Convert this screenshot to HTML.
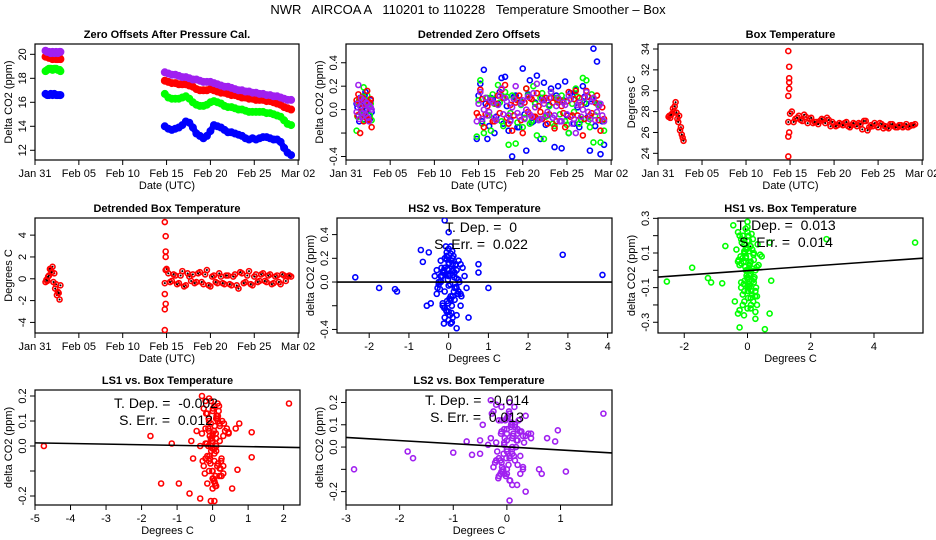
<!DOCTYPE html>
<html><head><meta charset="utf-8"><style>
html,body{margin:0;padding:0;background:#fff;}
svg{display:block;font-family:"Liberation Sans",sans-serif;}
</style></head><body>
<svg id="c" width="936" height="540" viewBox="0 0 936 540">
<text x="468" y="14" text-anchor="middle" font-size="13" style="white-space:pre">NWR   AIRCOA A   110201 to 110228   Temperature Smoother – Box</text>
</svg>
<script>
const times=[1.2,1.4,1.6,1.8,2.0,2.2,2.4,2.6,2.8,2.9,14.8,15.2,15.6,16.0,16.4,16.8,17.2,17.6,18.0,18.4,18.8,19.2,19.6,20.0,20.4,20.8,21.2,21.6,22.0,22.4,22.8,23.2,23.6,24.0,24.4,24.8,25.2,25.6,26.0,26.4,26.8,27.2,27.6,28.0,28.4,28.8,29.2];
const times2=[1.3,1.5,1.7,1.9,2.1,2.3,2.5,2.7,15.0,15.4,15.8,16.2,16.6,17.0,17.4,17.8,18.2,18.6,19.0,19.4,19.8,20.2,20.6,21.0,21.4,21.8,22.2,22.6,23.0,23.4,23.8,24.2,24.6,25.0,25.4,25.8,26.2,26.6,27.0,27.4,27.8,28.2,28.6,29.0];
const zBlue=[16.7,16.6,16.6,16.7,16.6,16.7,16.6,16.6,16.6,16.6,14.0,13.8,13.7,13.8,13.9,14.1,14.4,14.3,13.9,13.4,13.2,13.0,13.2,13.6,14.1,14.0,13.9,13.7,13.5,13.5,13.4,13.3,13.2,13.0,12.9,13.0,12.9,13.0,13.1,13.1,13.0,12.9,12.9,12.7,12.2,11.8,11.6];
const zGreen=[18.6,18.7,18.8,18.8,18.7,18.8,18.8,18.7,18.7,18.6,16.7,16.4,16.3,16.3,16.3,16.4,16.5,16.3,16.0,15.8,15.7,15.7,15.8,16.0,16.1,16.0,15.9,15.7,15.6,15.6,15.5,15.4,15.4,15.3,15.2,15.2,15.2,15.2,15.2,15.1,15.1,15.0,14.9,14.8,14.5,14.2,14.1];
const zRed=[19.8,19.8,19.7,19.7,19.6,19.7,19.6,19.6,19.7,19.6,17.8,17.7,17.6,17.6,17.5,17.5,17.5,17.4,17.3,17.1,17.0,17.0,17.0,17.1,17.0,16.9,16.8,16.8,16.7,16.6,16.6,16.5,16.4,16.4,16.3,16.3,16.2,16.2,16.2,16.1,16.1,16.0,15.9,15.8,15.6,15.5,15.4];
const zPurple=[20.3,20.2,20.2,20.1,20.2,20.1,20.2,20.1,20.2,20.2,18.5,18.4,18.3,18.3,18.2,18.1,18.1,18.0,17.9,17.9,17.8,17.7,17.7,17.7,17.6,17.5,17.4,17.3,17.3,17.2,17.1,17.0,17.0,16.9,16.9,16.8,16.8,16.7,16.7,16.6,16.6,16.5,16.5,16.4,16.3,16.2,16.2];
const dBlue=[0.05,-0.05,0.10,0.02,-0.08,0.15,0.00,-0.05,0.08,-0.02,-0.25,0.22,0.34,-0.25,0.10,-0.20,0.05,0.27,0.28,-0.18,-0.40,0.12,-0.15,0.35,-0.35,0.25,-0.10,0.29,-0.25,0.23,-0.05,0.18,-0.32,0.20,-0.33,0.24,-0.20,0.12,0.17,-0.15,0.20,0.05,-0.35,0.52,0.41,-0.38,-0.30];
const dGreen=[-0.18,0.05,0.09,-0.05,0.19,0.00,0.12,-0.08,0.05,-0.09,-0.23,0.25,-0.20,0.10,-0.18,0.05,0.21,-0.10,0.15,-0.30,0.12,-0.29,0.08,-0.15,0.18,-0.12,0.20,-0.22,0.10,-0.25,-0.05,0.15,-0.14,0.08,0.12,-0.10,-0.20,0.05,0.18,-0.12,0.27,0.25,-0.15,-0.28,0.05,-0.28,-0.18];
const dRed=[0.08,0.13,-0.20,0.05,-0.10,0.00,0.16,-0.08,0.09,-0.15,-0.03,0.17,-0.15,0.03,0.08,-0.10,0.12,0.17,0.21,-0.12,-0.18,0.06,0.12,-0.20,0.18,0.10,-0.06,0.14,-0.02,0.08,-0.12,0.10,-0.16,0.06,0.03,-0.15,0.15,-0.05,0.16,0.10,-0.22,0.16,-0.05,0.10,0.12,-0.18,-0.08];
const dPurple=[-0.02,0.21,0.03,-0.06,0.08,-0.04,0.05,-0.10,0.02,0.00,-0.10,0.15,0.00,-0.05,0.08,-0.07,0.04,0.18,0.10,-0.05,0.02,0.20,-0.06,0.08,0.00,-0.04,0.14,0.22,-0.08,0.05,-0.02,0.15,-0.05,0.10,-0.10,0.04,0.12,-0.12,-0.20,0.06,0.00,0.15,-0.08,0.10,-0.02,0.05,-0.10];
const dBlue2=[0.02,-0.10,0.07,-0.04,0.12,-0.06,0.03,-0.08,0.12,-0.10,0.05,-0.14,0.09,-0.06,0.15,-0.12,0.03,-0.09,0.11,-0.15,0.07,-0.04,0.13,-0.11,0.06,-0.08,0.10,-0.13,0.04,-0.07,0.12,-0.10,0.08,-0.05,0.14,-0.12,0.02,-0.09,0.11,-0.06,0.09,-0.14,0.05,-0.10];
const dGreen2=[-0.06,0.08,-0.03,0.11,-0.09,0.04,0.07,-0.05,0.08,-0.12,0.10,-0.05,0.13,-0.09,0.06,-0.14,0.11,-0.03,0.09,-0.11,0.04,-0.07,0.12,-0.10,0.05,-0.08,0.14,-0.06,0.03,-0.12,0.10,-0.04,0.07,-0.13,0.09,-0.02,0.11,-0.08,0.06,-0.10,0.13,-0.05,0.04,-0.09];
const dRed2=[-0.05,0.07,-0.02,0.10,-0.06,0.04,-0.09,0.06,-0.06,0.09,-0.04,0.07,-0.10,0.05,-0.03,0.10,-0.07,0.04,-0.05,0.08,-0.09,0.06,-0.02,0.09,-0.06,0.03,-0.08,0.10,-0.04,0.06,-0.10,0.08,-0.03,0.07,-0.06,0.09,-0.05,0.04,-0.08,0.11,-0.03,0.06,-0.09,0.02];
const dPurple2=[0.05,-0.08,0.10,-0.03,0.00,0.06,-0.07,0.03,0.05,-0.08,0.10,-0.02,0.06,-0.09,0.12,-0.04,0.07,-0.10,0.09,-0.03,0.05,-0.08,0.11,-0.06,0.02,-0.09,0.08,-0.05,0.10,-0.07,0.03,-0.10,0.06,-0.04,0.09,-0.08,0.04,-0.06,0.10,-0.02,0.07,-0.09,0.03,-0.05];
const boxTemp=[27.5,27.4,27.8,28.0,28.9,27.3,27.6,26.5,25.5,25.2,27.0,28.0,27.3,27.6,27.1,27.5,27.3,26.9,27.0,27.1,27.2,27.4,26.6,26.8,26.7,26.8,26.9,26.6,26.7,26.8,26.9,26.3,27.1,26.5,26.6,26.7,26.9,26.4,26.5,26.8,26.6,26.5,26.7,26.6,26.5,26.7,26.8];
const boxTemp2=[27.6,27.7,28.3,28.5,27.9,27.0,26.2,25.8,27.8,27.0,27.4,27.2,27.7,26.9,27.4,27.0,26.8,27.3,26.9,27.2,27.0,26.6,26.9,26.7,27.0,26.5,26.9,26.6,26.8,27.1,26.2,26.7,26.9,26.5,26.8,26.6,26.4,26.8,26.5,26.7,26.5,26.8,26.6,26.7];
const boxOutT=[14.8,14.8,14.9,14.8,14.9,14.9,14.9,14.9,14.8];
const boxOutV=[23.7,25.6,26.0,29.5,30.2,30.8,31.2,32.3,33.8];
const detBox=[-0.3,-0.2,0.3,0.8,1.1,0.5,-0.5,-1.2,-1.9,-0.6,-0.4,0.5,-0.2,0.3,-0.4,0.7,-0.6,0.2,0.4,-0.3,0.6,-0.5,0.8,-0.7,0.3,-0.4,0.2,-0.5,0.3,-0.6,0.4,-0.9,0.5,-0.3,0.7,-0.6,0.4,-0.2,0.5,-0.3,0.4,-0.4,0.3,-0.5,0.3,0.2,0.2];
const detBox2=[-0.1,0.2,0.9,0.6,-0.3,-0.9,-1.5,-1.3,0.9,-0.3,0.4,-0.5,0.3,-0.7,0.5,-0.2,-0.4,0.5,-0.3,0.4,-0.6,0.2,-0.3,0.5,-0.4,0.3,-0.5,0.2,-0.6,0.6,-0.4,0.3,-0.5,0.2,-0.3,0.4,-0.2,0.3,-0.5,0.2,-0.3,0.4,-0.2,0.3];
const detOutV=[-4.7,-2.8,-2.3,-1.4,0.8,2.0,2.5,3.9,5.2];
const coreX=[-0.3,-0.2,-0.1,0.0,0.1,0.2,0.3,-0.25,-0.15,-0.05,0.05,0.15,0.25,0.35,-0.2,-0.1,0.0,0.1,0.2,-0.3,-0.1,0.0,0.05,0.1,-0.05,0.15,0.3,0.4,-0.15,0.0,0.2,-0.2,0.1,-0.1,0.05,0.25,-0.05,0.0,0.1,-0.15,0.3,0.45,-0.35,0.0,0.15,-0.1,0.05,0.2,-0.25,0.1];
const coreX2=[-0.12,0.08,-0.02,0.18,-0.28,0.03,0.12,-0.08,0.22,-0.18,0.0,0.06,-0.04,0.14,-0.22,0.09,-0.06,0.27,-0.12,0.02,0.17,-0.09,0.04,-0.01,0.11,-0.16,0.07,0.32,-0.07,0.01,0.13,-0.03,0.19,-0.11,0.05,-0.2,0.08,0.0,0.24,-0.05];
const hs2CoreY=[-0.1,0.05,0.2,-0.25,0.1,-0.05,0.15,0.0,-0.2,0.25,-0.15,0.08,-0.08,0.12,0.18,-0.3,0.28,-0.12,0.03,0.1,-0.22,0.05,-0.35,0.15,0.22,-0.05,-0.1,0.05,-0.18,0.1,-0.28,0.0,0.2,0.12,-0.12,0.02,-0.25,-0.03,0.06,0.08,-0.2,-0.05,0.05,0.15,-0.15,-0.08,0.3,0.1,-0.02,-0.3];
const hs2CoreY2=[0.1,-0.2,0.02,0.15,-0.05,-0.28,0.22,0.06,-0.1,0.12,-0.32,0.18,-0.16,0.04,-0.06,0.26,-0.24,0.0,0.08,-0.14,0.14,0.2,-0.02,-0.18,0.09,0.05,-0.26,-0.12,0.3,0.16,-0.08,0.11,-0.04,-0.22,0.24,0.01,-0.34,0.07,-0.1,0.19];
const hs2OutX=[-2.35,-1.75,-1.35,-1.3,-0.7,-0.65,-0.55,-0.45,-0.5,0.75,0.75,1.0,2.87,3.87,-0.1,0.0,0.2,0.5,-0.12,0.25];
const hs2OutY=[0.04,-0.05,-0.06,-0.08,0.27,0.17,-0.2,-0.18,0.25,0.15,0.08,-0.05,0.23,0.06,0.52,0.42,-0.39,-0.3,-0.35,0.18];
const hs1CoreY=[0.05,-0.1,0.15,-0.05,0.0,0.1,-0.15,0.2,-0.2,0.08,-0.08,0.12,-0.12,0.03,0.18,-0.18,0.25,-0.02,0.06,-0.25,0.1,0.0,-0.1,0.14,0.07,-0.06,0.02,0.09,-0.14,0.22,-0.05,0.04,-0.16,0.11,-0.03,0.0,0.13,-0.09,0.05,0.2,-0.2,0.08,0.12,-0.04,0.01,-0.12,0.17,-0.07,0.03,-0.22];
const hs1CoreY2=[-0.08,0.14,0.0,-0.18,0.06,0.2,-0.12,0.1,-0.04,0.16,-0.22,0.03,0.12,-0.14,0.08,-0.02,0.24,-0.1,0.05,-0.16,0.18,-0.06,0.01,0.13,-0.2,0.07,-0.09,0.15,0.02,-0.12,0.21,-0.03,0.09,-0.26,0.11,-0.07,0.04,0.17,-0.15,0.0];
const hs1OutX=[-2.55,-1.75,-1.25,-1.15,-0.8,-0.7,-0.45,-0.25,-0.25,0.25,0.25,0.55,0.7,0.75,2.5,5.3,-0.4,0.0,0.7,-0.3];
const hs1OutY=[-0.065,0.015,-0.045,-0.07,-0.075,0.14,0.26,-0.33,-0.23,-0.24,-0.28,-0.34,-0.25,-0.06,0.18,0.16,-0.18,0.28,0.16,0.22];
const ls1CoreY=[0.05,-0.05,0.1,-0.1,0.0,0.08,-0.08,0.15,-0.15,0.03,-0.03,0.12,-0.12,0.06,0.18,-0.06,0.02,-0.02,0.09,0.2,-0.1,0.05,-0.14,0.11,0.0,-0.07,0.04,0.07,-0.04,0.14,-0.09,0.01,-0.16,0.06,0.16,-0.05,0.09,-0.01,0.03,0.13,-0.11,0.05,0.0,-0.13,0.1,0.19,-0.06,0.02,-0.08,0.0];
const ls1CoreY2=[0.07,-0.12,0.02,0.16,-0.06,-0.14,0.11,0.04,-0.09,0.13,-0.17,0.08,-0.02,0.17,-0.11,0.05,-0.07,0.1,0.0,-0.13,0.14,-0.04,0.06,-0.1,0.12,0.01,-0.15,0.09,-0.05,0.15,-0.08,0.03,-0.12,0.11,-0.01,0.07,-0.16,0.04,-0.06,0.18];
const ls1OutX=[-4.75,-1.75,-1.45,-1.15,-0.95,-0.65,-0.6,-0.55,-0.35,-0.45,-0.05,0.05,0.45,0.55,0.7,0.75,1.1,1.1,2.15,0.65];
const ls1OutY=[0.0,0.04,-0.15,0.01,-0.15,-0.19,0.02,-0.05,-0.21,0.06,-0.22,-0.22,0.055,-0.17,-0.095,0.09,-0.045,0.055,0.17,0.07];
const ls2CoreY=[0.04,-0.06,0.12,-0.1,0.0,0.06,-0.09,0.16,-0.13,0.02,-0.04,0.1,-0.12,0.05,0.19,-0.07,0.03,-0.03,0.08,0.21,-0.11,0.06,-0.15,0.1,0.01,-0.06,0.05,0.06,-0.05,0.13,-0.08,0.02,-0.17,0.07,0.15,-0.04,0.08,-0.02,0.04,0.12,-0.1,0.04,0.01,-0.12,0.09,0.18,-0.05,0.03,-0.09,-0.01];
const ls2CoreY2=[-0.06,0.1,-0.13,0.03,0.15,-0.08,0.06,-0.11,0.12,-0.02,0.08,-0.15,0.04,0.18,-0.07,0.11,-0.03,0.07,-0.12,0.14,0.0,-0.09,0.16,-0.05,0.05,-0.14,0.09,0.02,-0.1,0.13,-0.04,0.12,-0.17,0.06,0.2,-0.06,0.1,-0.01,0.07,-0.12];
const ls2OutX=[-2.85,-1.85,-1.75,-1.0,-0.75,-0.65,-0.5,-0.45,0.35,0.35,0.45,0.6,0.65,0.9,0.95,1.1,1.8,0.05,-0.5,0.75];
const ls2OutY=[-0.1,-0.02,-0.05,-0.025,0.025,-0.035,-0.03,0.1,-0.2,0.14,0.06,-0.1,-0.12,0.025,0.075,-0.11,0.15,-0.24,0.03,0.04];
const fitSlope=[0,0.013,-0.0025,-0.014];
const fitIntercept=[0,-0.002,0.0,0.001];
const dateTicks=[0,5,10,15,20,25,30];
const dateLabels=["Jan 31","Feb 05","Feb 10","Feb 15","Feb 20","Feb 25","Mar 02"];

const NS="http://www.w3.org/2000/svg";
const svg=document.getElementById('c');
function el(tag,attrs,parent,txt){const e=document.createElementNS(NS,tag);for(const k in attrs)e.setAttribute(k,attrs[k]);if(txt!==undefined)e.textContent=txt;(parent||svg).appendChild(e);return e;}
const COL={blue:"#0000ff",green:"#00ff00",red:"#ff0000",purple:"#a020f0"};

function panel(name,b,xd,yd,title,xTitle,yTitle,xt,xl,yt,yl){
  const g=el('g',{});
  
  
  const sx=v=>b.x0+(v-xd[0])/(xd[1]-xd[0])*(b.x1-b.x0);
  const sy=v=>b.y0+(v-yd[0])/(yd[1]-yd[0])*(b.y1-b.y0);
  const t=el('text',{x:(b.x0+b.x1)/2,y:b.y0-6,'text-anchor':'middle','font-size':11,'font-weight':'bold'},g,title);
  
  
  const r=el('rect',{x:b.x0,y:b.y0,width:b.x1-b.x0,height:b.y1-b.y0,fill:'none',stroke:'#000','stroke-width':1.2},g);
  
  
  const xa=el('g',{},g);
  
  
  xt.forEach((v,i)=>{const x=sx(v);el('line',{x1:x,x2:x,y1:b.y1,y2:b.y1+5,stroke:'#000'},xa);
    const tl=el('text',{x:x,y:b.y1+17,'text-anchor':'middle','font-size':11},xa,xl[i]);
    
    });
  const xtt=el('text',{x:(b.x0+b.x1)/2,y:b.y1+29,'text-anchor':'middle','font-size':11},g,xTitle);
  
  
  const ya=el('g',{},g);
  
  
  yt.forEach((v,i)=>{const y=sy(v);el('line',{x1:b.x0-5,x2:b.x0,y1:y,y2:y,stroke:'#000'},ya);
    if(yl[i]){const tl=el('text',{x:b.x0-9,y:y,'text-anchor':'middle','font-size':11,transform:`rotate(-90 ${b.x0-9} ${y})`},ya,yl[i]);
    
    }});
  const cy=(b.y0+b.y1)/2;
  const ytt=el('text',{x:b.x0-23,y:cy,'text-anchor':'middle','font-size':11,transform:`rotate(-90 ${b.x0-23} ${cy})`},g,yTitle);
  
  
  const clipId='cl'+name;
  const cp=el('clipPath',{id:clipId},g);el('rect',{x:b.x0,y:b.y0,width:b.x1-b.x0,height:b.y1-b.y0},cp);
  const area=el('g',{'clip-path':`url(#${clipId})`},g);
  return {g,sx,sy,area,b,xd};
}
function pts(p,xs,ys,color,name,r,sw,dotBlack){
  const g=el('g',{},p.area);
  
  
  xs.forEach((x,i)=>{const cx=p.sx(x),cy=p.sy(ys[i]);
    const c=el('circle',{cx:cx,cy:cy,r:r||2.5,fill:'none',stroke:color,'stroke-width':sw||1.6},g);
    
    
    if(dotBlack)el('circle',{cx:cx,cy:cy,r:1,fill:'#000'},g);});
}
function band(p,ys,color,name){
  const segs=[[0,10],[10,times.length]];
  segs.forEach(([a,b2])=>{const d=times.slice(a,b2).map((t,i)=>`${i?'L':'M'}${p.sx(t).toFixed(1)},${p.sy(ys[a+i]).toFixed(1)}`).join('');
    const pa=el('path',{d:d,fill:'none',stroke:color,'stroke-width':6,'stroke-linejoin':'round','stroke-linecap':'round'},p.area);
    
    });
  pts(p,times,ys,color,name,3,2);
}
function fit(p,k){
  const x0=p.xd[0],x1=p.xd[1];
  const ln=el('line',{x1:p.sx(x0),y1:p.sy(fitIntercept[k]+fitSlope[k]*x0),x2:p.sx(x1),y2:p.sy(fitIntercept[k]+fitSlope[k]*x1),stroke:'#000','stroke-width':1.6},p.area);
  
  
}
function note(p,cx,y1,t1,t2){
  const a=el('text',{x:cx,y:y1,'text-anchor':'middle','font-size':14,style:'white-space:pre'},p.g,t1);
  
  
  const b=el('text',{x:cx,y:y1+17,'text-anchor':'middle','font-size':14,style:'white-space:pre'},p.g,t2);
  
  
}

const p1=panel('zero-offsets-panel',{x0:35,x1:299,y0:44,y1:160},[0,30.1],[20.86,11.19],'Zero Offsets After Pressure Cal.','Date (UTC)','Delta CO2 (ppm)',dateTicks,dateLabels,[12,14,16,18,20],['12','14','16','18','20']);
band(p1,zBlue,COL.blue,'hs2-series');band(p1,zGreen,COL.green,'hs1-series');band(p1,zRed,COL.red,'ls1-series');band(p1,zPurple,COL.purple,'ls2-series');

const p2=panel('detrended-zero-offsets-panel',{x0:346,x1:612,y0:44,y1:160},[0,30.1],[0.56,-0.43],'Detrended Zero Offsets','Date (UTC)','Delta CO2 (ppm)',dateTicks,dateLabels,[-0.4,-0.2,0,0.2,0.4],['-0.4','','0.0','0.2','0.4']);
pts(p2,times,dBlue,COL.blue,'hs2-series');pts(p2,times2,dBlue2,COL.blue,'hs2-series-b');
pts(p2,times,dGreen,COL.green,'hs1-series');pts(p2,times2,dGreen2,COL.green,'hs1-series-b');
pts(p2,times,dRed,COL.red,'ls1-series');pts(p2,times2,dRed2,COL.red,'ls1-series-b');
pts(p2,times,dPurple,COL.purple,'ls2-series');pts(p2,times2,dPurple2,COL.purple,'ls2-series-b');

const p3=panel('box-temperature-panel',{x0:658,x1:923,y0:44,y1:160},[0,30.1],[34.48,23.36],'Box Temperature','Date (UTC)','Degrees C',dateTicks,dateLabels,[24,26,28,30,32,34],['24','26','28','30','32','34']);
pts(p3,times,boxTemp,COL.red,'box-temp-series',2.5,1.6,true);pts(p3,times2,boxTemp2,COL.red,'box-temp-series-b',2.5,1.6,true);pts(p3,boxOutT,boxOutV,COL.red,'box-temp-outliers');

const p4=panel('detrended-box-temp-panel',{x0:35,x1:299,y0:218,y1:333},[0,30.1],[5.57,-4.97],'Detrended Box Temperature','Date (UTC)','Degrees C',dateTicks,dateLabels,[-4,-2,0,2,4],['-4','-2','0','2','4']);
pts(p4,times,detBox,COL.red,'det-box-temp-series',2.5,1.6,true);pts(p4,times2,detBox2,COL.red,'det-box-temp-series-b',2.5,1.6,true);pts(p4,boxOutT,detOutV,COL.red,'det-box-temp-outliers');

const p5=panel('hs2-vs-box-panel',{x0:337,x1:612,y0:218,y1:333},[-2.81,4.11],[0.54,-0.43],'HS2 vs. Box Temperature','Degrees C','delta CO2 (ppm)',[-2,-1,0,1,2,3,4],['-2','-1','0','1','2','3','4'],[-0.4,-0.2,0,0.2,0.4],['-0.4','','0.0','0.2','0.4']);
pts(p5,coreX,hs2CoreY,COL.blue,'hs2-points');pts(p5,coreX2,hs2CoreY2,COL.blue,'hs2-points-b');pts(p5,hs2OutX,hs2OutY,COL.blue,'hs2-outliers');fit(p5,0);note(p5,481,232,'T. Dep. =  0','S. Err. =  0.022');

const p6=panel('hs1-vs-box-panel',{x0:658,x1:923,y0:218,y1:333},[-2.83,5.55],[0.302,-0.362],'HS1 vs. Box Temperature','Degrees C','delta CO2 (ppm)',[-2,0,2,4],['-2','0','2','4'],[-0.3,-0.2,-0.1,0,0.1,0.2,0.3],['-0.3','','-0.1','','0.1','','0.3']);
pts(p6,coreX,hs1CoreY,COL.green,'hs1-points');pts(p6,coreX2,hs1CoreY2,COL.green,'hs1-points-b');pts(p6,hs1OutX,hs1OutY,COL.green,'hs1-outliers');fit(p6,1);note(p6,786,230,'T. Dep. =  0.013','S. Err. =  0.014');

const p7=panel('ls1-vs-box-panel',{x0:35,x1:300,y0:390,y1:505},[-5,2.46],[0.224,-0.236],'LS1 vs. Box Temperature','Degrees C','delta CO2 (ppm)',[-5,-4,-3,-2,-1,0,1,2],['-5','-4','-3','-2','-1','0','1','2'],[-0.2,-0.1,0,0.1,0.2],['-0.2','','0.0','0.1','0.2']);
pts(p7,coreX,ls1CoreY,COL.red,'ls1-points');pts(p7,coreX2,ls1CoreY2,COL.red,'ls1-points-b');pts(p7,ls1OutX,ls1OutY,COL.red,'ls1-outliers');fit(p7,2);note(p7,166,408,'T. Dep. =  -0.002','S. Err. =  0.012');

const p8=panel('ls2-vs-box-panel',{x0:346,x1:612,y0:390,y1:505},[-3,1.96],[0.256,-0.26],'LS2 vs. Box Temperature','Degrees C','delta CO2 (ppm)',[-3,-2,-1,0,1],['-3','-2','-1','0','1'],[-0.2,-0.1,0,0.1,0.2],['-0.2','','0.0','0.1','0.2']);
pts(p8,coreX,ls2CoreY,COL.purple,'ls2-points');pts(p8,coreX2,ls2CoreY2,COL.purple,'ls2-points-b');pts(p8,ls2OutX,ls2OutY,COL.purple,'ls2-outliers');fit(p8,3);note(p8,477,405,'T. Dep. =  -0.014','S. Err. =  0.013');
</script>
</body></html>
